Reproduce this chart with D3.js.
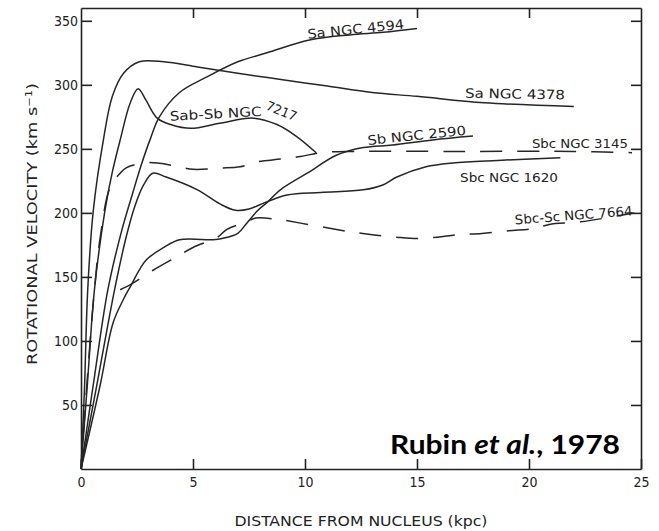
<!DOCTYPE html>
<html>
<head>
<meta charset="utf-8">
<script src="https://cdn.jsdelivr.net/npm/d3@7"></script>
<style>
  body { margin: 0; background: #fff; }
  .tick text { font-family: "DejaVu Sans Condensed", "DejaVu Sans", sans-serif; font-size: 14px; fill: #222; }
  .axis path, .axis line { stroke: #222; stroke-width: 1.6; }
  .curve { fill: none; stroke: #262626; stroke-width: 1.5; }
  .lbl { font-family: "DejaVu Sans Condensed", "DejaVu Sans", sans-serif; font-size: 13px; fill: #222; }
</style>
</head>
<body>
<div class="chart"></div>
<script>
var svgWidth = 659;
var svgHeight = 531;

var margin = {
  top: 8,
  right: 18,
  bottom: 62,
  left: 81
};

var width = svgWidth - margin.left - margin.right;
var height = svgHeight - margin.top - margin.bottom;

// rotation curves: [distance kpc, velocity km/s]
var ngc4594 = [[0,0],[0.6,72],[1.2,140],[1.8,185],[2.3,215],[2.7,238],[3.1,258],[3.5,275],[4.4,294],[5.6,306],[7,318],[8.3,325],[10.2,335],[12,339],[13.5,341],[15,344]];
var ngc4378 = [[0,0],[0.15,60],[0.3,140],[0.55,202],[1.0,257],[1.4,291],[1.9,309],[2.6,318],[3.7,318],[5.2,314],[7,309],[9,304],[11,299],[13,294],[15,291],[18,286],[22,283]];
var ngc7217 = [[0,0],[0.3,70],[0.6,140],[1.07,202],[1.4,232],[1.75,257],[2.2,286],[2.55,297],[2.9,288],[3.4,274],[4.0,269],[4.9,266],[6.2,270],[7.7,274],[8.75,269],[9.6,260],[10.5,247]];
var ngc2590 = [[0,0],[0.85,65],[1.43,114],[1.88,132],[2.19,142],[2.9,163],[3.7,173],[4.4,179],[5.9,179],[6.3,180],[7.0,184],[7.4,192],[7.9,202],[8.3,208],[8.9,218],[10.1,231],[11.4,245],[12.6,251],[13.9,253],[15.7,257],[17.5,260]];
var ngc1620 = [[0,0],[0.7,65],[1.5,140],[2.0,180],[2.4,205],[2.8,222],[3.2,231],[3.8,228],[5.2,218],[6.2,207],[6.9,202],[7.5,203],[8.2,208],[9.2,214],[10.7,216],[12.6,218],[13.5,222],[14.1,228],[15.4,236],[16.6,239],[18.6,241],[21.4,243]];
var ngc3145 = [[0,0],[0.3,75],[0.6,140],[0.85,180],[1.3,220],[1.75,231],[2.0,235],[2.8,239],[3.4,239],[4.1,237],[5.0,234],[6.2,235],[7.1,236],[7.9,240],[8.9,242],[9.8,244],[10.7,247],[12.2,248],[17,248],[22,248],[24.6,247]];
var ngc7664 = [[1.75,140],[2.3,145],[3.2,155],[4.3,166],[5.0,173],[6.1,181],[6.5,187],[7.4,193],[7.8,196],[8.75,195],[9.8,192],[11.1,188],[12.1,185],[13.0,183],[14.1,181],[15.0,180],[15.9,181],[16.8,183],[17.9,184],[19.1,186],[20.3,188],[20.9,191],[22.3,193],[24.7,200]];

var solidCurves = [ngc4594, ngc4378, ngc7217, ngc2590, ngc1620];
var dashedCurves = [ngc3145, ngc7664];

// curve labels: text, anchor [kpc, km/s], rotation
var labelText = ["Sa  NGC 4594", "Sa  NGC 4378", "Sab-Sb  NGC", "7217", "Sb  NGC 2590", "Sbc  NGC 3145", "Sbc  NGC 1620", "Sbc-Sc NGC 7664"];
var labelAnchor = [[10.13,336],[17.14,290],[3.97,272],[8.21,281],[12.81,253],[20.13,251],[16.92,224],[19.38,191]];
var labelAngle = [-6, 1, -3, 22, -6, 0, 0, -4.4];
var labelWidth = [97, 100, 92, 32, 99, 96, 98, 118];

var xTicks = [0, 5, 10, 15, 20, 25];
var yTicks = [50, 100, 150, 200, 250, 300, 350];

var svg = d3
  .select(".chart")
  .append("svg")
  .attr("width", svgWidth)
  .attr("height", svgHeight);

var chartGroup = svg.append("g")
  .attr("transform", `translate(${margin.left}, ${margin.top})`);

var xScale = d3.scaleLinear().domain([0, 25]).range([0, width]);
var yScale = d3.scaleLinear().domain([0, 360]).range([height, 0]);

// frame with inward ticks on all four sides
chartGroup.append("g")
  .attr("class", "axis")
  .attr("transform", `translate(0, ${height})`)
  .call(d3.axisBottom(xScale).tickValues(xTicks).tickSizeInner(-10).tickSizeOuter(0).tickPadding(8));

chartGroup.append("g")
  .attr("class", "axis")
  .call(d3.axisLeft(yScale).tickValues(yTicks).tickSizeInner(-11).tickSizeOuter(0).tickPadding(3));

chartGroup.append("g")
  .attr("class", "axis")
  .call(d3.axisTop(xScale).tickValues(xTicks.slice(1, 5)).tickSizeInner(-10).tickSizeOuter(0).tickFormat(""));

chartGroup.append("g")
  .attr("class", "axis")
  .attr("transform", `translate(${width}, 0)`)
  .call(d3.axisRight(yScale).tickValues(yTicks).tickSizeInner(-10).tickSizeOuter(0).tickFormat(""));

var line = d3.line()
  .x(d => xScale(d[0]))
  .y(d => yScale(d[1]))
  .curve(d3.curveCatmullRom.alpha(0.5));

chartGroup.selectAll(".solid")
  .data(solidCurves)
  .enter()
  .append("path")
  .attr("class", "curve solid")
  .attr("d", line);

chartGroup.selectAll(".dashed")
  .data(dashedCurves)
  .enter()
  .append("path")
  .attr("class", "curve dashed")
  .attr("stroke-dasharray", "22,15")
  .attr("d", line);

chartGroup.selectAll(".lbl")
  .data(labelText)
  .enter()
  .append("text")
  .attr("class", "lbl")
  .attr("transform", (d, i) => `translate(${xScale(labelAnchor[i][0])}, ${yScale(labelAnchor[i][1])}) rotate(${labelAngle[i]})`)
  .attr("textLength", (d, i) => labelWidth[i])
  .attr("lengthAdjust", "spacingAndGlyphs")
  .text(d => d);

// axis titles
var yTitle = svg.append("text")
  .attr("transform", "translate(37, 224) rotate(-90)")
  .attr("text-anchor", "middle")
  .attr("textLength", 282)
  .attr("lengthAdjust", "spacingAndGlyphs")
  .style("font-family", "'DejaVu Sans Condensed', 'DejaVu Sans', sans-serif")
  .style("font-size", "14px")
  .style("fill", "#222");
yTitle.append("tspan").text("ROTATIONAL  VELOCITY  (km s");
yTitle.append("tspan").attr("dy", -5).style("font-size", "9px").text("−1");
yTitle.append("tspan").attr("dy", 5).text(")");

svg.append("text")
  .attr("x", margin.left + width / 2)
  .attr("y", 526)
  .attr("text-anchor", "middle")
  .attr("textLength", 253)
  .attr("lengthAdjust", "spacingAndGlyphs")
  .style("font-family", "'DejaVu Sans Condensed', 'DejaVu Sans', sans-serif")
  .style("font-size", "14px")
  .style("fill", "#222")
  .text("DISTANCE  FROM  NUCLEUS  (kpc)");

var credit = svg.append("text")
  .attr("x", 390)
  .attr("y", 454)
  .attr("textLength", 230)
  .attr("lengthAdjust", "spacingAndGlyphs")
  .style("font-family", "Lato, 'Open Sans', sans-serif")
  .style("font-weight", "bold")
  .style("font-size", "27px")
  .style("fill", "#000");
credit.append("tspan").text("Rubin ");
credit.append("tspan").style("font-style", "italic").text("et al.");
credit.append("tspan").text(", 1978");
</script>
</body>
</html>
